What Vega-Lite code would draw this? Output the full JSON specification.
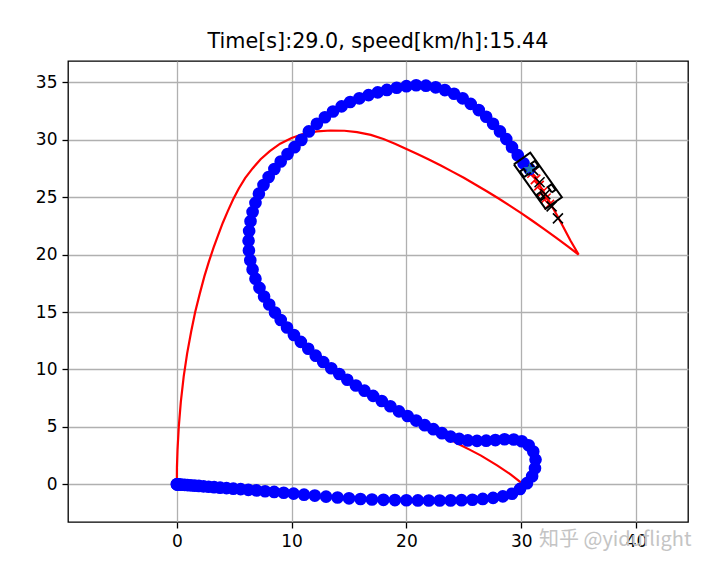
{
  "$schema": "https://vega.github.io/schema/vega-lite/v6.json",
  "autosize": {"type": "none"},
  "padding": {"left": 68, "top": 61, "right": 22, "bottom": 49},
  "width": 620,
  "height": 461,
  "background": "white",
  "title": {
    "text": "Time[s]:29.0, speed[km/h]:15.44",
    "font": "DejaVu Sans",
    "fontSize": 20.7,
    "fontWeight": "normal",
    "color": "#000000",
    "anchor": "middle",
    "offset": 8
  },
  "config": {
    "view": {"stroke": "#000000", "strokeWidth": 1.3},
    "axis": {
      "grid": true,
      "gridColor": "#b0b0b0",
      "gridWidth": 1.3,
      "domain": false,
      "ticks": true,
      "tickColor": "#000000",
      "tickWidth": 1.3,
      "tickSize": 6,
      "labelFont": "DejaVu Sans",
      "labelFontSize": 17,
      "labelColor": "#000000",
      "labelPadding": 5,
      "title": null
    }
  },
  "datasets": {
    "trajectory": [
      {"x": 0, "y": 0}, {"x": 0.02, "y": 0}, {"x": 0.08, "y": -0.01}, {"x": 0.17, "y": -0.01},
      {"x": 0.31, "y": -0.02}, {"x": 0.48, "y": -0.04}, {"x": 0.69, "y": -0.05}, {"x": 0.94, "y": -0.07},
      {"x": 1.23, "y": -0.09}, {"x": 1.56, "y": -0.12}, {"x": 1.92, "y": -0.14}, {"x": 2.33, "y": -0.18},
      {"x": 2.77, "y": -0.21}, {"x": 3.25, "y": -0.25}, {"x": 3.77, "y": -0.29}, {"x": 4.33, "y": -0.33},
      {"x": 4.92, "y": -0.38}, {"x": 5.56, "y": -0.42}, {"x": 6.23, "y": -0.48}, {"x": 6.94, "y": -0.53},
      {"x": 7.69, "y": -0.6}, {"x": 8.48, "y": -0.66}, {"x": 9.31, "y": -0.73}, {"x": 10.17, "y": -0.81},
      {"x": 11.08, "y": -0.9}, {"x": 12.02, "y": -0.98}, {"x": 13.0, "y": -1.07}, {"x": 14.0, "y": -1.15},
      {"x": 15.0, "y": -1.22}, {"x": 16.0, "y": -1.28}, {"x": 17.0, "y": -1.32}, {"x": 18.0, "y": -1.35},
      {"x": 19.0, "y": -1.37}, {"x": 20.0, "y": -1.39}, {"x": 21.0, "y": -1.4}, {"x": 21.95, "y": -1.41},
      {"x": 22.9, "y": -1.41}, {"x": 23.85, "y": -1.4}, {"x": 24.8, "y": -1.38}, {"x": 25.75, "y": -1.34},
      {"x": 26.65, "y": -1.27}, {"x": 27.55, "y": -1.18}, {"x": 28.4, "y": -1.05}, {"x": 29.2, "y": -0.82},
      {"x": 29.9, "y": -0.4}, {"x": 30.5, "y": 0.1}, {"x": 30.95, "y": 0.7}, {"x": 31.2, "y": 1.4},
      {"x": 31.25, "y": 2.15}, {"x": 31.05, "y": 2.85}, {"x": 30.65, "y": 3.4}, {"x": 30.05, "y": 3.75},
      {"x": 29.35, "y": 3.9}, {"x": 28.55, "y": 3.92}, {"x": 27.75, "y": 3.85}, {"x": 26.95, "y": 3.8},
      {"x": 26.15, "y": 3.78}, {"x": 25.35, "y": 3.82}, {"x": 24.6, "y": 3.95},
      {"x": 23.85, "y": 4.15}, {"x": 23.1, "y": 4.45}, {"x": 22.35, "y": 4.8}, {"x": 21.6, "y": 5.15},
      {"x": 20.85, "y": 5.55}, {"x": 20.1, "y": 5.95}, {"x": 19.35, "y": 6.35}, {"x": 18.6, "y": 6.8},
      {"x": 17.85, "y": 7.25}, {"x": 17.1, "y": 7.7}, {"x": 16.35, "y": 8.15}, {"x": 15.6, "y": 8.6},
      {"x": 14.85, "y": 9.1}, {"x": 14.15, "y": 9.6}, {"x": 13.45, "y": 10.1}, {"x": 12.75, "y": 10.65},
      {"x": 12.1, "y": 11.2}, {"x": 11.45, "y": 11.8}, {"x": 10.8, "y": 12.4}, {"x": 10.2, "y": 13.0},
      {"x": 9.6, "y": 13.65}, {"x": 9.05, "y": 14.3}, {"x": 8.55, "y": 14.95}, {"x": 8.05, "y": 15.65},
      {"x": 7.6, "y": 16.35}, {"x": 7.2, "y": 17.1}, {"x": 6.85, "y": 17.9}, {"x": 6.6, "y": 18.7},
      {"x": 6.4, "y": 19.5}, {"x": 6.28, "y": 20.35}, {"x": 6.25, "y": 21.2}, {"x": 6.3, "y": 22.05},
      {"x": 6.42, "y": 22.9}, {"x": 6.6, "y": 23.7}, {"x": 6.85, "y": 24.5}, {"x": 7.15, "y": 25.3},
      {"x": 7.55, "y": 26.05}, {"x": 8.0, "y": 26.75}, {"x": 8.5, "y": 27.45}, {"x": 9.05, "y": 28.1},
      {"x": 9.65, "y": 28.75}, {"x": 10.25, "y": 29.35}, {"x": 10.85, "y": 29.98}, {"x": 11.5, "y": 30.72},
      {"x": 12.2, "y": 31.38}, {"x": 12.9, "y": 31.95}, {"x": 13.6, "y": 32.45}, {"x": 14.35, "y": 32.9},
      {"x": 15.1, "y": 33.28}, {"x": 15.9, "y": 33.6}, {"x": 16.7, "y": 33.88}, {"x": 17.5, "y": 34.12},
      {"x": 18.3, "y": 34.33}, {"x": 19.15, "y": 34.52}, {"x": 20.0, "y": 34.66}, {"x": 20.85, "y": 34.74},
      {"x": 21.7, "y": 34.7}, {"x": 22.55, "y": 34.56}, {"x": 23.35, "y": 34.32}, {"x": 24.15, "y": 34.0},
      {"x": 24.9, "y": 33.6}, {"x": 25.6, "y": 33.12}, {"x": 26.3, "y": 32.58}, {"x": 26.95, "y": 32.0},
      {"x": 27.55, "y": 31.38}, {"x": 28.15, "y": 30.72}, {"x": 28.7, "y": 30.05}, {"x": 29.2, "y": 29.35},
      {"x": 29.7, "y": 28.65}, {"x": 30.2, "y": 27.95}, {"x": 30.72, "y": 27.45}
    ],
    "course": [
      {"o": 1, "x": 0, "y": 0}, {"o": 2, "x": 2, "y": -0.15}, {"o": 3, "x": 4, "y": -0.3},
      {"o": 4, "x": 6, "y": -0.46}, {"o": 5, "x": 8, "y": -0.62}, {"o": 6, "x": 10, "y": -0.8},
      {"o": 7, "x": 12, "y": -0.98}, {"o": 8, "x": 14, "y": -1.15}, {"o": 9, "x": 16, "y": -1.28},
      {"o": 10, "x": 18, "y": -1.35}, {"o": 11, "x": 20, "y": -1.39}, {"o": 12, "x": 22, "y": -1.41},
      {"o": 13, "x": 24, "y": -1.4}, {"o": 14, "x": 25.75, "y": -1.34}, {"o": 15, "x": 26.65, "y": -1.27},
      {"o": 16, "x": 27.55, "y": -1.18}, {"o": 17, "x": 28.4, "y": -1.05}, {"o": 18, "x": 29.2, "y": -0.82},
      {"o": 19, "x": 29.9, "y": -0.45}, {"o": 20, "x": 30.25, "y": -0.1}, {"o": 21, "x": 30.1, "y": 0.06},
      {"o": 22, "x": 29.1, "y": 0.85}, {"o": 23, "x": 27.9, "y": 1.65}, {"o": 24, "x": 26.5, "y": 2.5},
      {"o": 25, "x": 25.5, "y": 3.02}, {"o": 26, "x": 24.7, "y": 3.42}, {"o": 27, "x": 23.9, "y": 3.85},
      {"o": 28, "x": 23.1, "y": 4.35}, {"o": 29, "x": 22.35, "y": 4.75}, {"o": 30, "x": 20.85, "y": 5.55},
      {"o": 31, "x": 19.35, "y": 6.35}, {"o": 32, "x": 17.85, "y": 7.25}, {"o": 33, "x": 16.35, "y": 8.15},
      {"o": 34, "x": 14.85, "y": 9.1}, {"o": 35, "x": 13.45, "y": 10.1}, {"o": 36, "x": 12.1, "y": 11.2},
      {"o": 37, "x": 10.8, "y": 12.4}, {"o": 38, "x": 9.6, "y": 13.65}, {"o": 39, "x": 8.55, "y": 14.95},
      {"o": 40, "x": 7.6, "y": 16.35}, {"o": 41, "x": 6.85, "y": 17.9}, {"o": 42, "x": 6.4, "y": 19.5},
      {"o": 43, "x": 6.25, "y": 21.2}, {"o": 44, "x": 6.42, "y": 22.9}, {"o": 45, "x": 6.85, "y": 24.5},
      {"o": 46, "x": 7.55, "y": 26.05}, {"o": 47, "x": 8.5, "y": 27.45}, {"o": 48, "x": 9.65, "y": 28.75},
      {"o": 49, "x": 10.85, "y": 29.98}, {"o": 50, "x": 12.2, "y": 31.38}, {"o": 51, "x": 13.6, "y": 32.45},
      {"o": 52, "x": 15.1, "y": 33.28}, {"o": 53, "x": 16.7, "y": 33.88}, {"o": 54, "x": 18.3, "y": 34.33},
      {"o": 55, "x": 20.0, "y": 34.66}, {"o": 56, "x": 21.7, "y": 34.7}, {"o": 57, "x": 23.35, "y": 34.32},
      {"o": 58, "x": 24.9, "y": 33.6}, {"o": 59, "x": 26.3, "y": 32.58}, {"o": 60, "x": 27.55, "y": 31.38},
      {"o": 61, "x": 28.7, "y": 30.05}, {"o": 62, "x": 29.7, "y": 28.65}, {"o": 63, "x": 30.72, "y": 27.45},
      {"o": 64, "x": 31.5, "y": 26.2}, {"o": 65, "x": 32.4, "y": 24.7}, {"o": 66, "x": 33.3, "y": 23.1},
      {"o": 67, "x": 34.3, "y": 21.2}, {"o": 68, "x": 35.0, "y": 20.0}, {"o": 69, "x": 34.0, "y": 20.76},
      {"o": 70, "x": 33.0, "y": 21.5}, {"o": 71, "x": 32.0, "y": 22.22}, {"o": 72, "x": 31.0, "y": 22.92},
      {"o": 73, "x": 30.0, "y": 23.6}, {"o": 74, "x": 29.0, "y": 24.26}, {"o": 75, "x": 28.0, "y": 24.9},
      {"o": 76, "x": 27.0, "y": 25.51}, {"o": 77, "x": 26.0, "y": 26.1}, {"o": 78, "x": 25.0, "y": 26.68},
      {"o": 79, "x": 24.0, "y": 27.22}, {"o": 80, "x": 23.0, "y": 27.75}, {"o": 81, "x": 22.0, "y": 28.26},
      {"o": 82, "x": 21.0, "y": 28.74}, {"o": 83, "x": 20.0, "y": 29.2}, {"o": 84, "x": 19.0, "y": 29.65},
      {"o": 85, "x": 18.0, "y": 30.06}, {"o": 86, "x": 16.9, "y": 30.42}, {"o": 87, "x": 15.7, "y": 30.66},
      {"o": 88, "x": 14.6, "y": 30.78}, {"o": 89, "x": 13.4, "y": 30.8}, {"o": 90, "x": 12.2, "y": 30.72},
      {"o": 91, "x": 11.0, "y": 30.5}, {"o": 92, "x": 10.0, "y": 30.15}, {"o": 93, "x": 9.0, "y": 29.65},
      {"o": 94, "x": 8.1, "y": 29.0}, {"o": 95, "x": 7.3, "y": 28.3}, {"o": 96, "x": 6.6, "y": 27.5},
      {"o": 97, "x": 5.95, "y": 26.65}, {"o": 98, "x": 5.4, "y": 25.75}, {"o": 99, "x": 4.9, "y": 24.8},
      {"o": 100, "x": 4.45, "y": 23.8}, {"o": 101, "x": 4.0, "y": 22.75}, {"o": 102, "x": 3.6, "y": 21.7},
      {"o": 103, "x": 3.2, "y": 20.6}, {"o": 104, "x": 2.8, "y": 19.4}, {"o": 105, "x": 2.4, "y": 18.1},
      {"o": 106, "x": 2.0, "y": 16.6}, {"o": 107, "x": 1.6, "y": 15.0}, {"o": 108, "x": 1.25, "y": 13.3},
      {"o": 109, "x": 0.9, "y": 11.4}, {"o": 110, "x": 0.6, "y": 9.4}, {"o": 111, "x": 0.35, "y": 7.2},
      {"o": 112, "x": 0.17, "y": 5.0}, {"o": 113, "x": 0.06, "y": 3.0}, {"o": 114, "x": 0.01, "y": 1.5},
      {"o": 115, "x": 0, "y": 0}
    ],
    "mpc": [
      {"x": 30.95, "y": 27.1}, {"x": 31.25, "y": 26.55}, {"x": 31.55, "y": 26.0},
      {"x": 31.85, "y": 25.45}, {"x": 32.15, "y": 24.9}, {"x": 32.45, "y": 24.35}
    ],
    "xref": [
      {"x": 31.05, "y": 27.35}, {"x": 31.6, "y": 26.3}, {"x": 32.1, "y": 25.25},
      {"x": 32.65, "y": 24.2}, {"x": 33.2, "y": 23.15}
    ],
    "car": [
      {"part": "body", "o": 1, "x": 29.364, "y": 27.848}, {"part": "body", "o": 2, "x": 30.79, "y": 28.862},
      {"part": "body", "o": 3, "x": 33.542, "y": 24.99}, {"part": "body", "o": 4, "x": 32.116, "y": 23.976},
      {"part": "body", "o": 5, "x": 29.364, "y": 27.848},
      {"part": "rr", "o": 1, "x": 30.242, "y": 26.742}, {"part": "rr", "o": 2, "x": 30.568, "y": 26.973},
      {"part": "rr", "o": 3, "x": 30.22, "y": 27.462}, {"part": "rr", "o": 4, "x": 29.894, "y": 27.23},
      {"part": "rr", "o": 5, "x": 30.242, "y": 26.742},
      {"part": "rl", "o": 1, "x": 31.22, "y": 27.438}, {"part": "rl", "o": 2, "x": 31.546, "y": 27.669},
      {"part": "rl", "o": 3, "x": 31.198, "y": 28.158}, {"part": "rl", "o": 4, "x": 30.872, "y": 27.927},
      {"part": "rl", "o": 5, "x": 31.22, "y": 27.438},
      {"part": "fr", "o": 1, "x": 31.69, "y": 24.704}, {"part": "fr", "o": 2, "x": 32.016, "y": 24.936},
      {"part": "fr", "o": 3, "x": 31.668, "y": 25.424}, {"part": "fr", "o": 4, "x": 31.342, "y": 25.193},
      {"part": "fr", "o": 5, "x": 31.69, "y": 24.704},
      {"part": "fl", "o": 1, "x": 32.668, "y": 25.4}, {"part": "fl", "o": 2, "x": 32.994, "y": 25.632},
      {"part": "fl", "o": 3, "x": 32.646, "y": 26.12}, {"part": "fl", "o": 4, "x": 32.32, "y": 25.889},
      {"part": "fl", "o": 5, "x": 32.668, "y": 25.4}
    ],
    "axle": [{"x": 30.72, "y": 27.45}],
    "credit": [{"x": 31.55, "y": -4.85, "label": "知乎 @yiduflight"}]
  },
  "encoding": {
    "x": {
      "field": "x",
      "type": "quantitative",
      "scale": {"domain": [-9.48, 44.53], "nice": false, "zero": false},
      "axis": {"values": [0, 10, 20, 30, 40]}
    },
    "y": {
      "field": "y",
      "type": "quantitative",
      "scale": {"domain": [-3.28, 36.85], "nice": false, "zero": false},
      "axis": {"values": [0, 5, 10, 15, 20, 25, 30, 35]}
    }
  },
  "layer": [
    {
      "data": {"name": "mpc"},
      "mark": {"type": "point", "shape": "M-1,-1L1,1M-1,1L1,-1", "filled": false, "stroke": "#ff0000", "strokeWidth": 1.6, "size": 90, "opacity": 1}
    },
    {
      "data": {"name": "course"},
      "mark": {"type": "line", "color": "#ff0000", "strokeWidth": 2.2},
      "encoding": {"order": {"field": "o", "type": "quantitative"}}
    },
    {
      "data": {"name": "trajectory"},
      "mark": {"type": "point", "shape": "circle", "filled": true, "color": "#0000ff", "size": 160, "opacity": 1}
    },
    {
      "data": {"name": "xref"},
      "mark": {"type": "point", "shape": "M-1,-1L1,1M-1,1L1,-1", "filled": false, "stroke": "#000000", "strokeWidth": 1.6, "size": 100, "opacity": 1}
    },
    {
      "data": {"name": "car"},
      "mark": {"type": "line", "color": "#000000", "strokeWidth": 2},
      "encoding": {
        "detail": {"field": "part", "type": "nominal"},
        "order": {"field": "o", "type": "quantitative"}
      }
    },
    {
      "data": {"name": "axle"},
      "mark": {"type": "point", "shape": "M0,-1L0.2245,-0.309L0.951,-0.309L0.363,0.118L0.588,0.809L0,0.382L-0.588,0.809L-0.363,0.118L-0.951,-0.309L-0.2245,-0.309Z", "filled": true, "color": "#1f77b4", "size": 170, "opacity": 1}
    },
    {
      "data": {"name": "credit"},
      "mark": {"type": "text", "align": "left", "baseline": "middle", "font": "Noto Sans CJK SC", "fontSize": 20, "color": "#c4c4c4"},
      "encoding": {"text": {"field": "label", "type": "nominal"}}
    }
  ]
}
